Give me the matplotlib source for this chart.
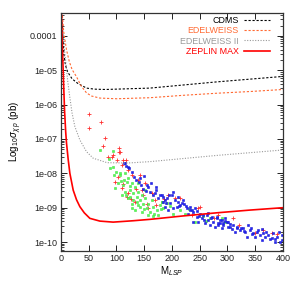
import numpy as np
import matplotlib
matplotlib.use("Agg")
from matplotlib import pyplot as plt
from matplotlib.ticker import FixedLocator, FuncFormatter, LogLocator, NullFormatter

plt.rcParams["font.family"] = ["Liberation Sans", "DejaVu Sans"]
plt.rcParams["mathtext.fontset"] = "custom"
plt.rcParams["mathtext.rm"] = "Liberation Sans"
plt.rcParams["mathtext.it"] = "Liberation Sans:italic"

# limit curves: mass, log10(sigma)
cdms_m = [2, 5, 8, 12, 20, 30, 46, 60, 80, 120, 160, 220, 280, 340, 400]
cdms_s = [-3.6, -4.5, -4.85, -5.05, -5.25, -5.38, -5.52, -5.55, -5.56, -5.54, -5.52, -5.43, -5.34, -5.26, -5.18]

edel_m = [2, 5, 10, 15, 20, 28, 36, 46, 55, 70, 100, 160, 220, 280, 340, 400]
edel_s = [-3.3, -3.9, -4.41, -4.75, -4.98, -5.19, -5.45, -5.66, -5.75, -5.81, -5.83, -5.80, -5.73, -5.67, -5.62, -5.56]

edel2_m = [1, 4, 7, 12, 16, 20, 25, 34, 46, 58, 83, 120, 160, 220, 280, 340, 400]
edel2_s = [-3.3, -4.0, -4.5, -5.3, -5.8, -6.25, -6.64, -7.03, -7.37, -7.56, -7.69, -7.70, -7.66, -7.57, -7.48, -7.40, -7.32]

zep_m = [0.7, 2.5, 4.5, 6.5, 8.5, 10, 13, 16, 22, 28, 34, 42, 52, 70, 94, 130, 160, 220, 280, 340, 400]
zep_s = [-3.3, -4.3, -5.3, -6.2, -6.8, -7.13, -7.6, -8.0, -8.49, -8.77, -8.97, -9.15, -9.31, -9.39, -9.42, -9.38, -9.34, -9.24, -9.15, -9.07, -9.0]

# scatter models: mass, log10(sigma)
red_m = [50, 71.5, 50, 80, 76, 105, 105, 92, 112, 118,
         85.3, 94.3, 100.3, 106.3, 109.3, 121.3, 127.3, 97.3, 109.3, 118.3,
         139.3, 151.3, 145.3, 163.3, 133.3, 169.3, 121.3, 103.3, 157.3, 142.3,
         247.4, 250.4, 205.4, 193.4, 235.4, 283.4, 310.5, 364.5, 379.5, 349.5,
         112, 126, 135, 148, 155, 172, 185, 215, 275, 320, 390]
red_s = [-6.27, -6.5, -6.68, -6.97, -7.2, -7.26, -7.38, -7.52, -7.6, -7.6,
         -7.52, -7.47, -7.61, -7.37, -7.76, -7.90, -8.05, -8.24, -8.44, -8.68,
         -8.19, -8.29, -8.49, -8.58, -8.83, -8.78, -8.58, -8.10, -9.02, -8.05,
         -9.02, -8.97, -8.73, -8.63, -9.22, -9.22, -9.31, -9.65, -9.75, -9.75,
         -8.3, -8.75, -8.45, -8.62, -8.9, -8.92, -8.75, -8.72, -9.3, -9.5, -9.78]

green_m = [70, 86, 94, 94, 106,
           106.3, 115.3, 121.3, 103.3, 112.3, 118.3, 127.3, 133.3, 124.3, 115.3,
           130.3, 139.3, 136.3, 145.3, 121.3, 130.3, 142.3, 151.3, 148.3, 157.3,
           163.3, 139.3, 154.3, 166.3, 160.3, 172.3, 133.3, 145.3, 178.3, 181.3,
           109.3, 97.3, 127.3, 151.3, 168.1, 175.3, 157.3, 124.3, 114.1, 138.1,
           181.4, 190.4, 202.4, 223.4, 241.4, 268.4, 184.4, 214.4, 295.5, 289.5,
           100, 108, 118, 125, 143, 150, 165, 180, 196, 230, 255, 262, 88, 95, 128, 137]
green_s = [-7.32, -7.58, -7.35, -7.82, -8.0,
           -8.05, -8.00, -8.15, -8.29, -8.34, -8.24, -8.29, -8.39, -8.49, -8.53,
           -8.58, -8.53, -8.68, -8.63, -8.73, -8.78, -8.78, -8.73, -8.88, -8.88,
           -8.78, -8.92, -9.02, -8.97, -9.12, -9.07, -9.07, -9.12, -8.92, -8.83,
           -8.63, -8.44, -8.88, -8.49, -9.17, -9.21, -9.21, -8.37, -8.19, -8.29,
           -8.83, -8.87, -9.17, -9.17, -9.41, -9.31, -9.02, -9.07, -9.41, -9.31,
           -7.95, -8.22, -8.62, -8.70, -8.98, -9.05, -9.25, -9.05, -8.95, -9.05, -9.25, -9.38, -7.85, -8.05, -9.0, -8.82]

blue_m = [115, 121,
          114, 118, 122, 132, 136, 150, 145, 157, 160, 169, 172, 178, 184, 163,
          184.4, 190.4, 199.4, 202.4, 196.4, 205.4, 211.4, 214.4, 217.4, 208.4,
          226.4, 232.4, 235.4, 238.4, 229.4, 241.4, 244.4, 250.4, 256.4, 253.4,
          262.4, 265.4, 271.4, 274.4, 280.4, 283.4, 289.4, 292.4, 298.4, 301.4,
          247.4, 259.4, 268.4, 220.4, 187.4, 193.4, 238.4, 277.4, 181.4, 202.4,
          280.5, 286.5, 292.5, 301.5, 304.5, 310.5, 316.5, 322.5, 328.5, 331.5,
          337.5, 340.5, 346.5, 352.5, 358.5, 364.5, 367.5, 373.5, 379.5, 382.5,
          388.5, 394.6, 397.6, 295.5, 313.5, 349.5, 361.5, 385.6, 334.5, 283.5,
          140, 147, 155, 166, 175, 190, 195, 210, 226, 233, 245, 258, 270, 286,
          296, 305, 318, 325, 343, 355, 370, 392, 398, 362,
          128, 142, 153, 171, 187, 212, 222, 248, 264, 290, 308, 330, 345, 376, 386]
blue_s = [-7.7, -7.82,
          -7.69, -7.79, -7.85, -8.10, -8.19, -8.08, -8.34, -8.41, -8.53, -8.58, -8.49, -8.63, -8.68, -8.29,
          -8.83, -8.73, -8.63, -8.53, -8.87, -8.78, -8.83, -8.92, -8.87, -8.97,
          -9.02, -8.97, -9.07, -9.12, -9.17, -9.02, -9.26, -9.17, -9.20, -9.31,
          -9.22, -9.36, -9.26, -9.41, -9.31, -9.46, -9.36, -9.51, -9.41, -9.55,
          -9.41, -9.46, -9.51, -8.78, -8.97, -9.07, -9.41, -9.55, -8.63, -9.02,
          -9.26, -9.36, -9.46, -9.41, -9.55, -9.51, -9.60, -9.65, -9.60, -9.70,
          -9.51, -9.65, -9.75, -9.70, -9.80, -9.75, -9.85, -9.80, -9.89, -9.75,
          -9.85, -9.99, -9.80, -9.31, -9.70, -9.85, -9.94, -9.99, -9.85, -9.51,
          -8.25, -8.45, -8.35, -8.62, -8.72, -8.85, -8.62, -8.70, -8.95, -9.08, -9.10, -9.35, -9.30, -9.44,
          -9.38, -9.47, -9.55, -9.58, -9.60, -9.65, -9.72, -9.72, -9.95, -9.62,
          -7.95, -8.15, -8.50, -8.40, -8.78, -8.95, -8.88, -9.25, -9.15, -9.58, -9.62, -9.68, -9.78, -9.90, -9.92]

fig = plt.figure(figsize=(3.0, 2.81), dpi=100)
ax = fig.add_axes([0.2033, 0.1068, 0.74, 0.8487])

ax.plot(red_m, 10 ** np.array(red_s), ls="none", marker="+", ms=2.2, mew=0.6, color="#ff3030")
ax.plot(green_m, 10 ** np.array(green_s), ls="none", marker="s", ms=1.7, mew=0.4, color="#44dd44", mfc="#55ff55")
ax.plot(blue_m, 10 ** np.array(blue_s), ls="none", marker="s", ms=2.0, mew=0.4, color="#1a1acc", mfc="#2222ff")

ax.plot(cdms_m, 10 ** np.array(cdms_s), color="black", lw=0.8, ls=(0, (2, 1.6)), label="CDMS")
ax.plot(edel_m, 10 ** np.array(edel_s), color="#ff6a33", lw=0.8, ls=(0, (2, 1.6)), label="EDELWEISS")
ax.plot(edel2_m, 10 ** np.array(edel2_s), color="#999999", lw=0.8, ls=(0, (1, 1.4)), label="EDELWEISS II")
ax.plot(zep_m, 10 ** np.array(zep_s), color="#ff0000", lw=1.2, label="ZEPLIN MAX")

ax.set_yscale("log")
ax.set_xlim(0, 400)
ax.set_ylim(10 ** -10.26, 10 ** -3.32)

ax.xaxis.set_major_locator(FixedLocator(range(0, 401, 50)))
ax.yaxis.set_major_locator(LogLocator(base=10, numticks=20))
ax.yaxis.set_minor_locator(LogLocator(base=10, subs=np.arange(2, 10), numticks=20))
ax.yaxis.set_minor_formatter(NullFormatter())


def ylab(v, pos):
    e = int(round(np.log10(v)))
    if e == -4:
        return "0.0001"
    return "1e-%02d" % (-e)


ax.yaxis.set_major_formatter(FuncFormatter(ylab))
ax.tick_params(which="both", direction="in", top=True, right=True, labelsize=6.5, colors="#222222", pad=2.5)
ax.tick_params(which="major", length=4, width=0.7)
ax.tick_params(which="minor", length=2, width=0.6)
for sp in ax.spines.values():
    sp.set_linewidth(0.9)
    sp.set_color("#333333")

ax.set_xlabel(r"M$_{LSP}$", fontsize=7, va="bottom")
ax.xaxis.set_label_coords(0.5, -0.112)
ax.set_ylabel(r"Log$_{10}\sigma_{\chi\ p}$ (pb)", fontsize=7, labelpad=4)

ax.legend(loc="upper right", bbox_to_anchor=(0.943, 0.985), frameon=False, markerfirst=False,
          handlelength=3.0, handletextpad=0.55, labelspacing=0.14, fontsize=6.4,
          labelcolor="linecolor", borderaxespad=0, borderpad=0)

fig.savefig("out.png", dpi=100)
